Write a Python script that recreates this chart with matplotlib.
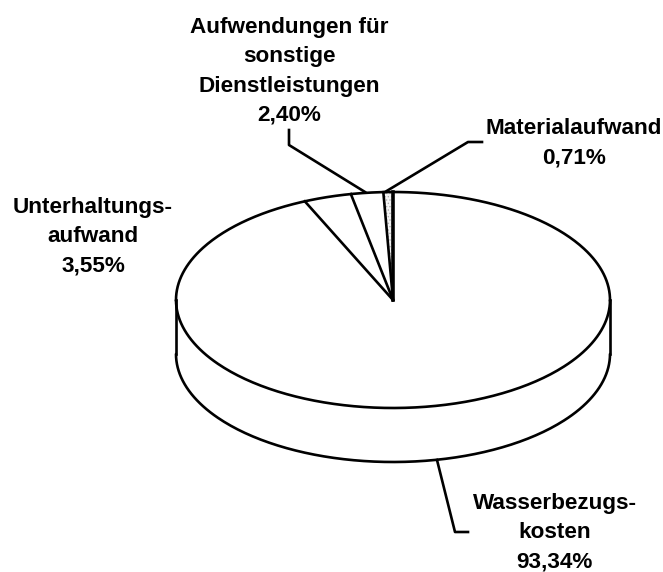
import numpy as np
import matplotlib
matplotlib.use("Agg")
import matplotlib.pyplot as plt

plt.rcParams['font.family'] = ['Liberation Sans', 'DejaVu Sans']
plt.rcParams['hatch.linewidth'] = 0.6

# shares, going counter clockwise from 12 o'clock
shares = [0.71, 2.40, 3.55, 93.34]
labels = ["Materialaufwand\n0,71%",
          "Aufwendungen für\nsonstige\nDienstleistungen\n2,40%",
          "Unterhaltungs-\naufwand\n3,55%",
          "Wasserbezugs-\nkosten\n93,34%"]

# pie geometry in image pixels
cx, cy = 393, 300
rx, ry = 217, 108
depth = 54
lw = 1.9


def rim(share):
    a = 2 * np.pi * share / 100
    return cx - rx * np.sin(a), cy - ry * np.cos(a)


fig = plt.figure(figsize=(6.63, 5.72), dpi=100)
ax = fig.add_axes([0, 0, 1, 1])
ax.set_xlim(0, 663)
ax.set_ylim(572, 0)
ax.axis('off')

# side wall
t = np.linspace(0, np.pi, 200)
x = cx + rx * np.cos(t)
y = cy + ry * np.sin(t)
ax.plot(x, y, color='black', lw=lw, solid_capstyle='round')
ax.plot(x, y + depth, color='black', lw=lw, solid_capstyle='round')
ax.plot([cx - rx, cx - rx], [cy, cy + depth], color='black', lw=lw)
ax.plot([cx + rx, cx + rx], [cy, cy + depth], color='black', lw=lw)

# top of the pie
t = np.linspace(np.pi, 2 * np.pi, 300)
ax.plot(cx + rx * np.cos(t), cy + ry * np.sin(t), color='black', lw=lw)

# grey slice
s = np.linspace(0, shares[0], 20)
sx, sy = rim(s)
ax.fill(np.r_[cx, sx], np.r_[cy, sy], facecolor='#f4f4f4', edgecolor='#b0b0b0',
        hatch='.....', lw=0)

# slice borders
total = 0
ax.plot([cx, cx], [cy, cy - ry], color='black', lw=2.6)
for share in shares[:-1]:
    total += share
    ex, ey = rim(total)
    ax.plot([cx, ex], [cy, ey], color='black', lw=lw)

# leader lines
ax.plot([482, 468, 385], [142, 142, 192], color='black', lw=lw)
ax.plot([289, 289, 365], [130, 145, 192], color='black', lw=lw)
ax.plot([437, 455, 468], [460, 532, 532], color='black', lw=lw)

# labels
label_pos = [(574, 143), (289, 71.5), (93, 237), (554.5, 533)]
for text, (px, py) in zip(labels, label_pos):
    ax.text(px, py, text, ha='center', va='center', fontsize=16.2,
            fontweight='bold', linespacing=1.52, color='black')

fig.savefig("out.png", dpi=100)
